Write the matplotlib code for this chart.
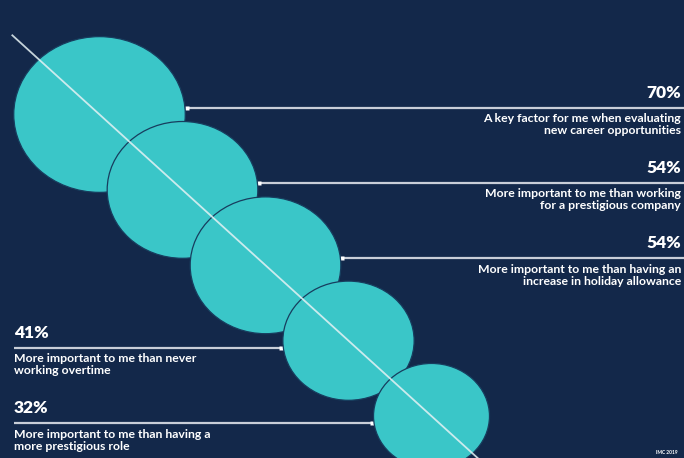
import numpy as np
import matplotlib
matplotlib.use("Agg")
import matplotlib.pyplot as plt
from matplotlib.patches import Ellipse

# ---- data ----
values = [70, 54, 54, 41, 32]
pct_labels = ["70%", "54%", "54%", "41%", "32%"]
descriptions = [
    "A key factor for me when evaluating\nnew career opportunities",
    "More important to me than working\nfor a prestigious company",
    "More important to me than having an\nincrease in holiday allowance",
    "More important to me than never\nworking overtime",
    "More important to me than having a\nmore prestigious role",
]
sides = ["right", "right", "right", "left", "left"]
footer = "IMC 2019"

# ---- style ----
BG = "#13284a"
TEAL = "#3ac6c8"
LINE = "#c9ced8"
W, H = 684, 458

fig = plt.figure(figsize=(W / 100, H / 100), dpi=100, facecolor=BG)
ax = fig.add_axes([0, 0, 1, 1])
ax.set_facecolor(BG)
ax.set_xlim(0, W)
ax.set_ylim(H, 0)
ax.axis("off")

scale = 10.25      # radius per sqrt(value)
yaspect = 0.908    # vertical squash of the circles
x0, y0 = 99.5, 114.5
dx, dy = 83.0, 75.4

fam = ["Lato", "DejaVu Sans"]

for i, (v, pl, desc, side) in enumerate(zip(values, pct_labels, descriptions, sides)):
    cx, cy = x0 + i * dx, y0 + i * dy
    rx = scale * np.sqrt(v)
    ry = rx * yaspect
    ax.add_patch(Ellipse((cx, cy), 2 * rx, 2 * ry, facecolor=TEAL,
                         edgecolor="#173d5e", linewidth=0.9, zorder=2 + i))
    off = -7 if side == "right" else 7
    ly = cy + off
    ex = rx * np.sqrt(1 - (off / ry) ** 2)
    if side == "right":
        xs, xe = cx + ex + 2, W
        tx, ha = 681, "right"
    else:
        xs, xe = 14, cx - ex - 2
        tx, ha = 14, "left"
    ax.plot([xs, xe], [ly, ly], color=LINE, lw=1.6, zorder=1, solid_capstyle="butt")
    mx = xs if side == "right" else xe
    ax.plot([mx], [ly], marker="s", ms=2.5, color="white", mec="none", zorder=1)
    ax.text(tx, ly - 15, pl, ha=ha, va="center", color="white", fontsize=12.5,
            fontweight="heavy", family=fam, zorder=20)
    ax.text(tx, ly + 5.5, desc, ha=ha, va="top", color="white", fontsize=8.8,
            fontweight="bold", family=fam, linespacing=1.1, zorder=20)

# diagonal line through the circle centres
t0, t1 = -1.05, (H - y0) / dy
ax.plot([x0 + t0 * dx, x0 + t1 * dx], [y0 + t0 * dy, y0 + t1 * dy],
        color="#e6f2f4", lw=1.3, alpha=0.85, zorder=15)

ax.text(678, 453, footer, ha="right", va="center", color="white", fontsize=3.5,
        fontweight="bold", family=fam, zorder=20)

fig.savefig("out.png", dpi=100, facecolor=BG)
